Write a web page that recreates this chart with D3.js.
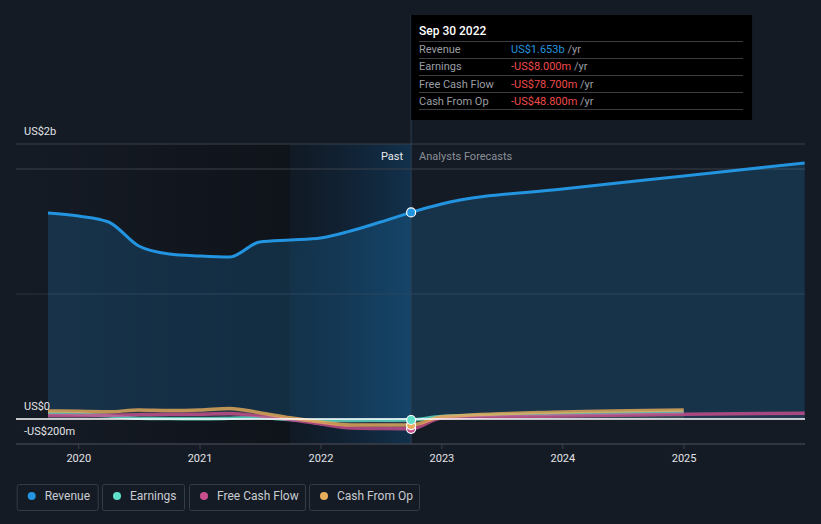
<!DOCTYPE html>
<html><head><meta charset="utf-8">
<script src="https://cdn.jsdelivr.net/npm/d3@7"></script>
<style>
html,body{margin:0;padding:0;background:#151b25;}
svg{display:block;font-family:Roboto,"Noto Sans",sans-serif;}
</style></head>
<body><svg id="c" width="821" height="524"></svg>
<script>
// ---- data ----
const pastDates = ["2019-09-30","2019-12-31","2020-03-31","2020-06-30","2020-09-30","2020-12-31","2021-03-31","2021-06-30","2021-09-30","2021-12-31","2022-03-31","2022-06-30","2022-09-30"];
const revenuePast = [1.648,1.624,1.576,1.384,1.320,1.304,1.296,1.416,1.432,1.448,1.504,1.576,1.653]; // US$ b
const earningsPast = [45,40,25,5,3,2,5,10,-5,-12,-12,-10,-8]; // US$ m
const fcfPast = [28,28,30,35,38,38,45,25,-5,-40,-72,-76,-78.7];
const cfoPast = [64,62,58,72,68,72,85,50,10,-24,-48,-48,-48.8];

const fcDates = ["2022-09-30","2022-12-31","2023-12-31","2024-12-31","2025-12-31"];
const revenueFc = [1.653,1.72,1.84,1.944,2.048];
const earningsFc = [-8,20,40,54,null];
const fcfFc = [-78.7,8,24,38,46];
const cfoFc = [-48.8,18,56,72,null];

const xTickYears = [2020,2021,2022,2023,2024,2025];
const yTickValues = [2.2e9, 0, -2e8];
const yTickLabels = ["US$2b","US$0","-US$200m"];
const gridValues = [2.2e9, 2e9, 1e9];

const seriesNames = ["Revenue","Earnings","Free Cash Flow","Cash From Op"];
const seriesColors = ["#2394df","#5fe0cb","#c94f8d","#e8ad5b"];
const tooltipTitle = "Sep 30 2022";
const tooltipValues = ["US$1.653b","-US$8.000m","-US$78.700m","-US$48.800m"];

// ---- scales ----
const parse = d3.timeParse("%Y-%m-%d");
const x = d3.scaleTime().domain([parse("2019-09-30"), parse("2026-01-01")]).range([48, 805]);
const y = d3.scaleLinear().domain([-2e8, 2.2e9]).range([444, 144]);
const svg = d3.select("#c");
const L = 16, R = 805;
const nowX = x(parse("2022-09-30"));

// defs
const defs = svg.append("defs");
const g1 = defs.append("linearGradient").attr("id","pastDark");
g1.append("stop").attr("offset","0").attr("stop-color","#000").attr("stop-opacity",0);
g1.append("stop").attr("offset","1").attr("stop-color","#000").attr("stop-opacity",0.3);
const g2 = defs.append("linearGradient").attr("id","pastBlue");
g2.append("stop").attr("offset","0").attr("stop-color","#0d1824").attr("stop-opacity",0.55);
g2.append("stop").attr("offset","1").attr("stop-color","#113656").attr("stop-opacity",0.8);

// background overlays
const bandX = x(parse("2021-09-30"));
svg.append("rect").attr("x",L).attr("y",144).attr("width",bandX-L).attr("height",300).attr("fill","url(#pastDark)");
svg.append("rect").attr("x",bandX).attr("y",144).attr("width",nowX-bandX).attr("height",300).attr("fill","url(#pastBlue)");

// gridlines
svg.selectAll(".grid").data(gridValues).enter().append("line")
  .attr("x1",L).attr("x2",R).attr("y1",d=>y(d)).attr("y2",d=>y(d))
  .attr("stroke",(d,i)=>i<2?"#3b414b":"#2c333e").attr("stroke-width",1);

// revenue area
const revPast = pastDates.map((d,i)=>({d:parse(d),v:revenuePast[i]*1e9}));
const revFc = fcDates.map((d,i)=>({d:parse(d),v:revenueFc[i]*1e9}));
const revAll = revPast.concat(revFc.slice(1));
const area = d3.area().x(d=>x(d.d)).y0(y(0)).y1(d=>y(d.v)).curve(d3.curveMonotoneX);
const line = d3.line().x(d=>x(d.d)).y(d=>y(d.v)).curve(d3.curveMonotoneX);
svg.append("path").datum(revAll).attr("d",area).attr("fill","#2394df").attr("fill-opacity",0.2);

// vertical now line
svg.append("line").attr("x1",nowX).attr("x2",nowX).attr("y1",15).attr("y2",444).attr("stroke","#2d3e52").attr("stroke-width",1);

// small series
function mk(past, fc){
  const p = pastDates.map((d,i)=>({d:parse(d),v:past[i]*1e6}));
  const f = fcDates.map((d,i)=>({d:parse(d),v:fc[i]==null?null:fc[i]*1e6})).filter(o=>o.v!=null);
  return p.concat(f.slice(1));
}
const small = [mk(earningsPast,earningsFc), mk(fcfPast,fcfFc), mk(cfoPast,cfoFc)];
const smallColors = [seriesColors[1], seriesColors[2], seriesColors[3]];
small.forEach((s,i)=>{
  svg.append("path").datum(s).attr("d",d3.area().x(d=>x(d.d)).y0(y(0)).y1(d=>y(d.v)).curve(d3.curveMonotoneX))
    .attr("fill",smallColors[i]).attr("fill-opacity",0.08);
});
small.forEach((s,i)=>{
  svg.append("path").datum(s).attr("d",line).attr("fill","none")
    .attr("stroke",smallColors[i]).attr("stroke-width",3.5).attr("stroke-opacity",0.8);
});

// zero line
svg.append("line").attr("x1",L).attr("x2",R).attr("y1",y(0)).attr("y2",y(0)).attr("stroke","#ffffff").attr("stroke-width",1.5);

// revenue line
svg.append("path").datum(revAll).attr("d",line).attr("fill","none").attr("stroke","#2394df").attr("stroke-width",3);

// dots at now
const nowVals = [revenuePast[12]*1e9, earningsPast[12]*1e6, cfoPast[12]*1e6, fcfPast[12]*1e6];
[[3,seriesColors[2]],[2,seriesColors[3]],[1,seriesColors[1]],[0,seriesColors[0]]].forEach(([k,c])=>{
  svg.append("circle").attr("cx",nowX).attr("cy",y(nowVals[k])).attr("r",4.5).attr("fill",c).attr("stroke","#ffffff").attr("stroke-width",1.2);
});

// x axis
svg.append("line").attr("x1",L).attr("x2",R).attr("y1",444).attr("y2",444).attr("stroke","#3b414b").attr("stroke-width",1.5);
const xAxis = svg.append("g");
xTickYears.forEach(yr=>{
  const xx = x(new Date(yr,0,1));
  xAxis.append("line").attr("x1",xx).attr("x2",xx).attr("y1",444).attr("y2",449).attr("stroke","#3b414b");
  xAxis.append("text").attr("x",xx).attr("y",462).attr("text-anchor","middle").attr("fill","#e2e4e7").attr("font-size",11).text(yr);
});

// y labels
yTickValues.forEach((v,i)=>{
  svg.append("text").attr("x",24).attr("y",y(v)-9).attr("fill","#e2e4e7").attr("font-size",11).text(yTickLabels[i]);
});

// Past / Analysts Forecasts
svg.append("text").attr("x",nowX-8).attr("y",160).attr("text-anchor","end").attr("fill","#e8eaec").attr("font-size",11).text("Past");
svg.append("text").attr("x",nowX+8).attr("y",160).attr("fill","#8b9097").attr("font-size",11).text("Analysts Forecasts");

// tooltip
const tt = svg.append("g");
tt.append("rect").attr("x",nowX).attr("y",15).attr("width",341).attr("height",105).attr("fill","#000000");
tt.append("text").attr("x",419).attr("y",35).attr("fill","#ffffff").attr("font-size",12).attr("font-weight",500).text(tooltipTitle);
const seps = [41,58,75,92,109];
seps.forEach(s=>tt.append("line").attr("x1",419).attr("x2",743).attr("y1",s+0.5).attr("y2",s+0.5).attr("stroke","#3a3d42"));
seriesNames.forEach((n,i)=>{
  const yy = 53 + i*17.3;
  tt.append("text").attr("x",419).attr("y",yy).attr("fill","#9a9ea4").attr("font-size",11).text(n);
  const t = tt.append("text").attr("x",511).attr("y",yy).attr("font-size",11);
  t.append("tspan").attr("fill",i===0?"#2394df":"#ef4b4b").text(tooltipValues[i]);
  t.append("tspan").attr("fill","#9a9ea4").text(" /yr");
});

// legend
const legX = [16.7,102,189,309];
const legW = [81,82,116,110];
seriesNames.forEach((n,i)=>{
  const g = svg.append("g");
  g.append("rect").attr("x",legX[i]+0.5).attr("y",484.5).attr("width",legW[i]).attr("height",26).attr("rx",2)
    .attr("fill","none").attr("stroke","#363c46");
  g.append("circle").attr("cx",legX[i]+15).attr("cy",496).attr("r",4).attr("fill",seriesColors[i]);
  g.append("text").attr("x",legX[i]+28).attr("y",500).attr("fill","#c8ccd1").attr("font-size",12).text(n);
});
</script></body></html>
